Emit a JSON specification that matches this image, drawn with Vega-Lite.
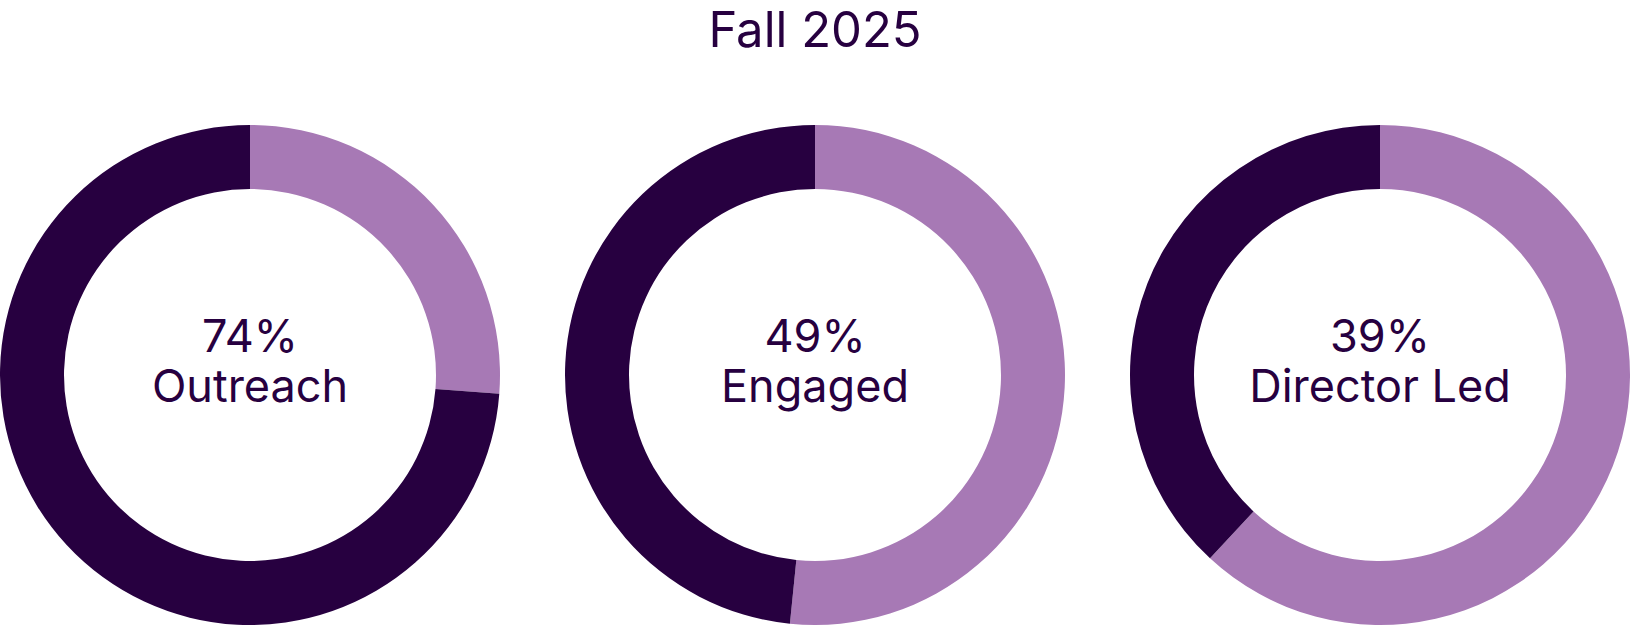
{
  "$schema": "https://vega.github.io/schema/vega-lite/v6.json",
  "padding": {"top": 8, "left": 0, "right": 0, "bottom": 0},
  "background": "white",
  "title": {"text": "Fall 2025", "fontSize": 49, "font": "Inter", "fontWeight": "normal", "color": "#270040", "anchor": "middle", "baseline": "top", "offset": 68},
  "data": {"values": [
    {"chart": "Outreach", "idx": 1, "segment": "rest", "ord": 1, "value": 26.2, "pct": "74%"},
    {"chart": "Outreach", "idx": 1, "segment": "share", "ord": 2, "value": 73.8, "pct": "74%"},
    {"chart": "Engaged", "idx": 2, "segment": "rest", "ord": 1, "value": 51.6, "pct": "49%"},
    {"chart": "Engaged", "idx": 2, "segment": "share", "ord": 2, "value": 48.4, "pct": "49%"},
    {"chart": "Director Led", "idx": 3, "segment": "rest", "ord": 1, "value": 61.9, "pct": "39%"},
    {"chart": "Director Led", "idx": 3, "segment": "share", "ord": 2, "value": 38.1, "pct": "39%"}
  ]},
  "facet": {"column": {"field": "idx", "type": "ordinal", "header": {"labels": false, "title": null, "labelPadding": 0, "titlePadding": 0}}},
  "spacing": 65,
  "spec": {
    "width": 500,
    "height": 500,
    "layer": [
      {
        "mark": {"type": "arc", "outerRadius": 250, "innerRadius": 186, "stroke": null},
        "encoding": {
          "theta": {"field": "value", "type": "quantitative", "stack": true},
          "order": {"field": "ord", "type": "quantitative"},
          "color": {"field": "segment", "type": "nominal", "scale": {"domain": ["rest", "share"], "range": ["#A779B5", "#270040"]}, "legend": null}
        }
      },
      {
        "transform": [{"filter": "datum.segment == 'share'"}],
        "mark": {"type": "text", "font": "Inter", "fontSize": 45, "color": "#270040", "baseline": "alphabetic", "align": "center", "dy": -23},
        "encoding": {"text": {"field": "pct"}}
      },
      {
        "transform": [{"filter": "datum.segment == 'share'"}],
        "mark": {"type": "text", "font": "Inter", "fontSize": 45, "color": "#270040", "baseline": "alphabetic", "align": "center", "dy": 27},
        "encoding": {"text": {"field": "chart"}}
      }
    ]
  },
  "config": {"view": {"stroke": null}}
}
